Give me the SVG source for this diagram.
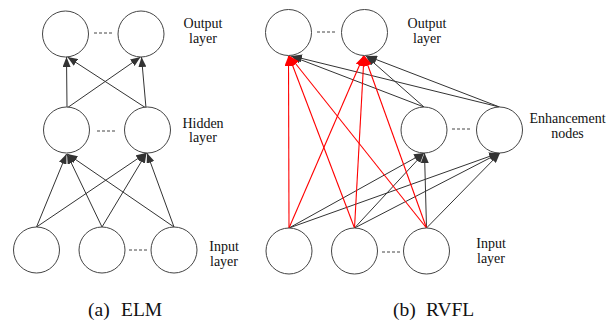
<svg xmlns="http://www.w3.org/2000/svg" width="612" height="322" viewBox="0 0 612 322">
<style>
.node{fill:#fff;stroke:#444;stroke-width:1}
.dash{stroke:#444;stroke-width:1;stroke-dasharray:3 2;fill:none}
.e{stroke:#333;stroke-width:1;fill:none;marker-end:url(#ag)}
.r{stroke:#ff0000;stroke-width:1.1;fill:none;marker-end:url(#ar)}
.lbl{font-family:"Liberation Serif","Times New Roman",serif;font-size:14px;fill:#111;text-anchor:middle}
.cap{font-family:"Liberation Serif","Times New Roman",serif;font-size:19.5px;fill:#111}
</style>
<defs>
<marker id="ag" viewBox="0 0 10 8" refX="10" refY="4" markerWidth="10" markerHeight="8" markerUnits="userSpaceOnUse" orient="auto"><path d="M0,0 L10,4 L0,8 z" fill="#333"/></marker>
<marker id="ar" viewBox="0 0 10 8" refX="10" refY="4" markerWidth="10" markerHeight="8" markerUnits="userSpaceOnUse" orient="auto"><path d="M0,0 L10,4 L0,8 z" fill="#ff0000"/></marker>
</defs>
<rect width="612" height="322" fill="#fff"/>

<g id="connectors">
<!-- ELM input -> hidden -->
<line class="e" x1="36.5" y1="227" x2="66.5" y2="154"/>
<line class="e" x1="36.5" y1="227" x2="146" y2="153"/>
<line class="e" x1="102" y1="227" x2="67" y2="154"/>
<line class="e" x1="102" y1="227" x2="146.5" y2="153"/>
<line class="e" x1="174" y1="227" x2="67.5" y2="154"/>
<line class="e" x1="174" y1="227" x2="147" y2="153"/>
<!-- ELM hidden -> output -->
<line class="e" x1="67" y1="108" x2="66.5" y2="57"/>
<line class="e" x1="67" y1="108" x2="140.5" y2="57"/>
<line class="e" x1="146" y1="108" x2="67.5" y2="57"/>
<line class="e" x1="146" y1="108" x2="141.5" y2="57"/>
<!-- RVFL input -> enhancement -->
<line class="e" x1="289" y1="228" x2="424" y2="153"/>
<line class="e" x1="289" y1="228" x2="499" y2="153"/>
<line class="e" x1="354.5" y1="228" x2="424" y2="153"/>
<line class="e" x1="354.5" y1="228" x2="499.5" y2="153"/>
<line class="e" x1="426.5" y1="228" x2="424.5" y2="153"/>
<line class="e" x1="426.5" y1="228" x2="500" y2="153"/>
<!-- RVFL enhancement -> output -->
<line class="e" x1="424" y1="107" x2="291" y2="56"/>
<line class="e" x1="424" y1="107" x2="366" y2="56"/>
<line class="e" x1="499.5" y1="107" x2="292" y2="56"/>
<line class="e" x1="499.5" y1="107" x2="367" y2="56"/>
<!-- RVFL direct input -> output (red) -->
<line class="r" x1="289" y1="228" x2="288.5" y2="56"/>
<line class="r" x1="289" y1="228" x2="363.5" y2="56"/>
<line class="r" x1="354.5" y1="228" x2="289" y2="56"/>
<line class="r" x1="354.5" y1="228" x2="364" y2="56"/>
<line class="r" x1="426.5" y1="228" x2="289.5" y2="56"/>
<line class="r" x1="426.5" y1="228" x2="364.5" y2="56"/>
</g>

<!-- ELM nodes -->
<g id="elm-out-1"><circle class="node" cx="65.5" cy="34" r="23"/></g>
<g id="elm-out-2"><circle class="node" cx="141" cy="34" r="23"/></g>
<line class="dash" x1="94" y1="33" x2="113" y2="33"/>
<g id="elm-hid-1"><circle class="node" cx="66.5" cy="130" r="23"/></g>
<g id="elm-hid-2"><circle class="node" cx="147.5" cy="130" r="23"/></g>
<line class="dash" x1="97" y1="131" x2="117" y2="131"/>
<g id="elm-in-1"><circle class="node" cx="36.5" cy="250" r="23"/></g>
<g id="elm-in-2"><circle class="node" cx="102" cy="250" r="23"/></g>
<g id="elm-in-3"><circle class="node" cx="174" cy="250" r="23"/></g>
<line class="dash" x1="129" y1="250" x2="148" y2="250"/>

<!-- RVFL nodes -->
<g id="rvfl-out-1"><circle class="node" cx="288.5" cy="32.5" r="23"/></g>
<g id="rvfl-out-2"><circle class="node" cx="364.5" cy="32.5" r="23"/></g>
<line class="dash" x1="317" y1="32" x2="337" y2="32"/>
<g id="rvfl-enh-1"><circle class="node" cx="424" cy="130" r="23"/></g>
<g id="rvfl-enh-2"><circle class="node" cx="499.5" cy="130" r="23"/></g>
<line class="dash" x1="452" y1="129" x2="472" y2="129"/>
<g id="rvfl-in-1"><circle class="node" cx="289" cy="251" r="23"/></g>
<g id="rvfl-in-2"><circle class="node" cx="354.5" cy="251" r="23"/></g>
<g id="rvfl-in-3"><circle class="node" cx="426.5" cy="251" r="23"/></g>
<line class="dash" x1="382" y1="252" x2="400" y2="252"/>

<!-- labels -->
<text class="lbl" x="203" y="28">Output</text>
<text class="lbl" x="203" y="43">layer</text>
<text class="lbl" x="203" y="128">Hidden</text>
<text class="lbl" x="203" y="142">layer</text>
<text class="lbl" x="224" y="251">Input</text>
<text class="lbl" x="224" y="266">layer</text>
<text class="lbl" x="427" y="28">Output</text>
<text class="lbl" x="427" y="43">layer</text>
<text class="lbl" x="567.5" y="123">Enhancement</text>
<text class="lbl" x="567.5" y="138">nodes</text>
<text class="lbl" x="491" y="248">Input</text>
<text class="lbl" x="491" y="263">layer</text>

<text class="cap" y="316"><tspan x="88">(a)</tspan><tspan x="121">ELM</tspan></text>
<text class="cap" y="316"><tspan x="393">(b)</tspan><tspan x="426">RVFL</tspan></text>
</svg>
